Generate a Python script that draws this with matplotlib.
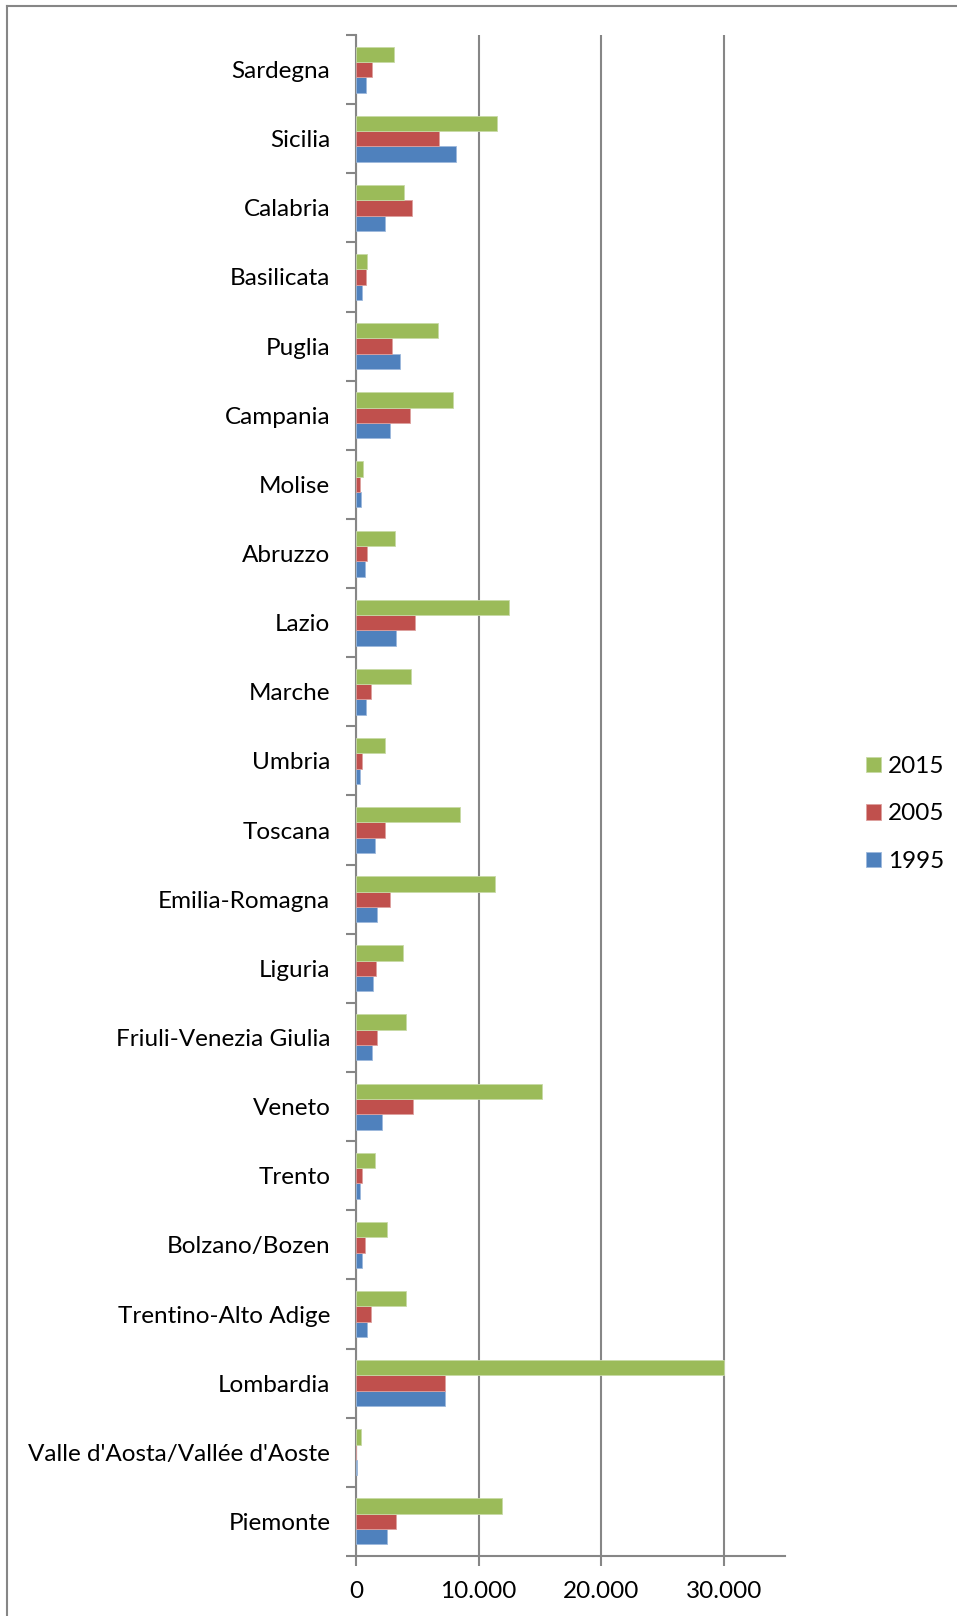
import matplotlib.pyplot as plt
from matplotlib.ticker import FuncFormatter, FixedLocator
from matplotlib.lines import Line2D
import numpy as np

plt.rcParams['font.family'] = ['Lato', 'DejaVu Sans']

# regions, bottom to top
regions = ['Piemonte', "Valle d'Aosta/Vallée d'Aoste", 'Lombardia', 'Trentino-Alto Adige',
           'Bolzano/Bozen', 'Trento', 'Veneto', 'Friuli-Venezia Giulia', 'Liguria',
           'Emilia-Romagna', 'Toscana', 'Umbria', 'Marche', 'Lazio', 'Abruzzo', 'Molise',
           'Campania', 'Puglia', 'Basilicata', 'Calabria', 'Sicilia', 'Sardegna']

v1995 = [2500, 60, 7250, 900, 500, 350, 2150, 1300, 1400, 1700, 1550, 300, 800, 3300,
         700, 400, 2800, 3600, 500, 2400, 8150, 800]
v2005 = [3230, 40, 7270, 1250, 700, 500, 4650, 1700, 1600, 2800, 2400, 500, 1200, 4800,
         900, 300, 4400, 2900, 850, 4550, 6750, 1300]
v2015 = [11900, 380, 30000, 4050, 2500, 1550, 15200, 4100, 3800, 11300, 8500, 2400, 4500,
         12500, 3200, 600, 7900, 6700, 870, 3900, 11500, 3100]

years = ['1995', '2005', '2015']
colors = ['#4F81BD', '#C0504D', '#9BBB59']
edges = ['#9DB9DC', '#DDA09E', '#C8DAA6']

FS = 17.5

fig = plt.figure(figsize=(9.57, 16.16), dpi=100)
ax = fig.add_axes([356 / 957, 1 - 1556 / 1616, (785 - 356) / 957, (1556 - 35) / 1616])

y = np.arange(len(regions))
h = 0.222
for i, (vals, yr) in enumerate(zip([v1995, v2005, v2015], years)):
    ax.barh(y + (i - 1) * h, vals, height=h, color=colors[i], edgecolor=edges[i],
            linewidth=0.6, label=yr, zorder=3)

ax.set_xlim(0, 35000)
ax.set_ylim(-0.5, len(regions) - 0.5)

ax.xaxis.set_major_locator(FixedLocator([0, 10000, 20000, 30000]))
ax.xaxis.set_major_formatter(FuncFormatter(lambda v, p: f'{int(v):,}'.replace(',', '.')))
ax.set_yticks(y)
ax.set_yticklabels(regions)
ax.set_yticks(np.arange(-0.5, len(regions), 1), minor=True)

grid_c = '#868686'
ax.grid(axis='x', color=grid_c, linewidth=1.5, zorder=0)
for s in ['top', 'right']:
    ax.spines[s].set_visible(False)
for s in ['left', 'bottom']:
    ax.spines[s].set_color(grid_c)
    ax.spines[s].set_linewidth(1.5)

ax.tick_params(axis='y', which='major', length=0, pad=18.5, labelsize=FS)
ax.tick_params(axis='y', which='minor', length=7, width=1.5, color=grid_c)
ax.tick_params(axis='x', length=7, width=1.5, color=grid_c, pad=11, labelsize=FS)

handles, labels = ax.get_legend_handles_labels()
leg = fig.legend(handles[::-1], labels[::-1], loc='center left',
                 bbox_to_anchor=(866 / 957, 1 - 814 / 1616), frameon=False,
                 fontsize=FS, handlelength=0.62, handleheight=0.62,
                 handletextpad=0.28, labelspacing=1.09, borderpad=0, borderaxespad=0)

# chart border (left and top)
fig.add_artist(Line2D([7 / 957, 7 / 957], [0, 1 - 6 / 1616], transform=fig.transFigure,
                      color=grid_c, linewidth=1.5))
fig.add_artist(Line2D([7 / 957, 1], [1 - 6 / 1616, 1 - 6 / 1616], transform=fig.transFigure,
                      color=grid_c, linewidth=1.5))

fig.savefig('out.png', dpi=100)
